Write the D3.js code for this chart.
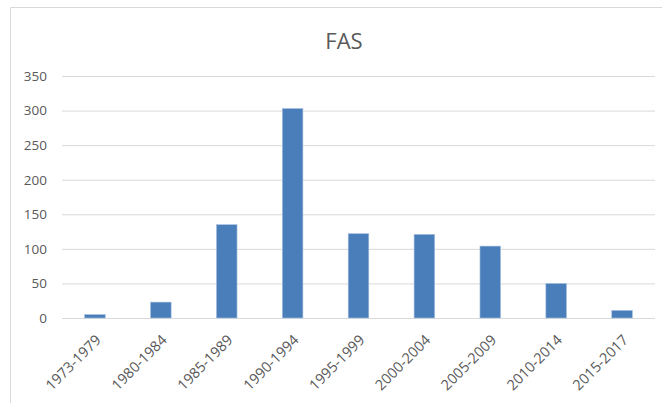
<!DOCTYPE html>
<html>
<head>
<meta charset="utf-8">
<script src="https://cdn.jsdelivr.net/npm/d3@7"></script>
<style>
  body { margin: 0; background: #fff; }
  text { font-family: "Open Sans", sans-serif; fill: #595959; }
</style>
</head>
<body>
<div id="chart"></div>
<script>
const chartTitle = 'FAS';
const periods = ['1973-1979', '1980-1984', '1985-1989', '1990-1994', '1995-1999',
  '2000-2004', '2005-2009', '2010-2014', '2015-2017'];
const counts = [5, 23, 135, 303, 122, 121, 104, 50, 11];
const yTicks = [0, 50, 100, 150, 200, 250, 300, 350];

const W = 662, H = 403;
const margin = { top: 76, right: 7, bottom: 85, left: 62 };
const width = W - margin.left - margin.right;
const height = H - margin.top - margin.bottom;

const root = d3.select('#chart')
  .append('svg')
  .attr('width', W)
  .attr('height', H);

// chart area frame (only top and left edges are visible in the crop)
root.append('path')
  .attr('d', `M10.5,${H} V7.5 H${W}`)
  .attr('fill', 'none')
  .attr('stroke', '#d9d9d9')
  .attr('stroke-width', 1);

root.append('text')
  .attr('x', 344)
  .attr('y', 49)
  .attr('text-anchor', 'middle')
  .style('font-size', '22px')
  .text(chartTitle);

const svg = root.append('g')
  .attr('transform', `translate(${margin.left},${margin.top})`);

const x = d3.scaleBand()
  .domain(periods)
  .range([0, width])
  .paddingInner(0.687)
  .paddingOuter(0.3435);

const y = d3.scaleLinear()
  .domain([0, 350])
  .range([height, 0]);

// gridlines
svg.append('g')
  .call(d3.axisLeft(y).tickValues(yTicks).tickSize(-width).tickFormat(''))
  .call(g => g.select('.domain').remove())
  .selectAll('.tick line')
  .attr('stroke', '#d9d9d9');

// y labels
svg.append('g')
  .call(d3.axisLeft(y).tickValues(yTicks).tickSize(0).tickPadding(15))
  .call(g => g.select('.domain').remove())
  .selectAll('text')
  .style('font-size', '13.5px')
  .style('font-family', '"Open Sans", sans-serif')
  .attr('fill', '#595959');

svg.selectAll('.bar')
  .data(counts)
  .enter()
  .append('rect')
  .attr('class', 'bar')
  .attr('x', (d, i) => x(periods[i]))
  .attr('y', d => y(d))
  .attr('width', x.bandwidth())
  .attr('height', d => height - y(d))
  .attr('fill', '#4a7ebb')
  .attr('stroke', '#a9c1e0')
  .attr('stroke-width', 0.6);

// x labels, rotated
svg.append('g')
  .selectAll('text')
  .data(periods)
  .enter()
  .append('text')
  .attr('transform', d => `translate(${x(d) + x.bandwidth() / 2 + 7},${height + 23}) rotate(-45)`)
  .attr('text-anchor', 'end')
  .style('font-size', '14.5px')
  .text(d => d);
</script>
</body>
</html>
